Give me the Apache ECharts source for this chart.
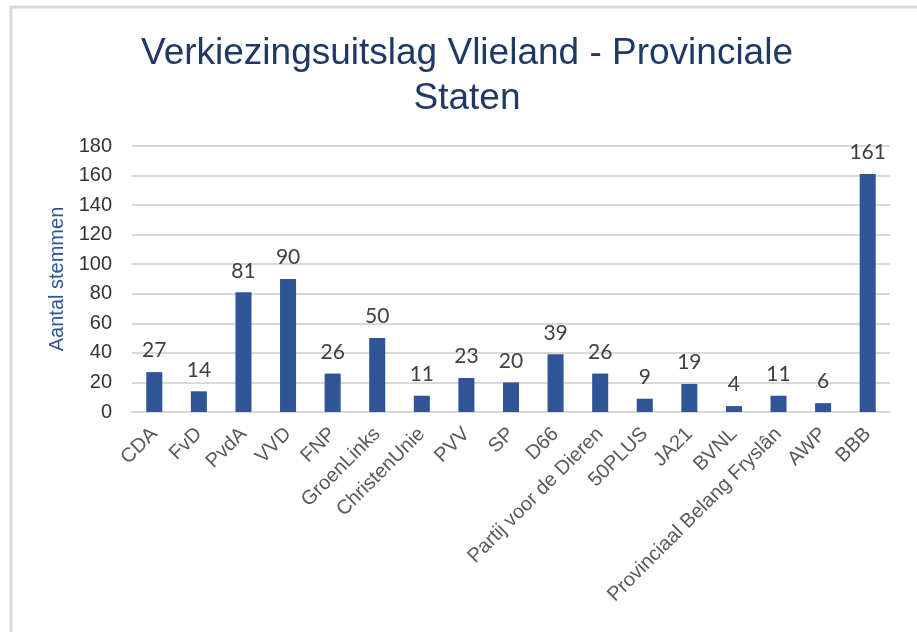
<!DOCTYPE html>
<html>
<head>
    <meta charset="utf-8">
    <title>Verkiezingsuitslag Vlieland</title>
    <script src="https://cdn.jsdelivr.net/npm/echarts@6/dist/echarts.min.js"></script>
    <style>
        html, body { margin: 0; padding: 0; background: #fff; }
        #main { width: 917px; height: 632px; }
    </style>
</head>
<body>
<div id="main"></div>
<script>
    var partijen = ['CDA', 'FvD', 'PvdA', 'VVD', 'FNP', 'GroenLinks', 'ChristenUnie', 'PVV', 'SP', 'D66',
        'Partij voor de Dieren', '50PLUS', 'JA21', 'BVNL', 'Provinciaal Belang Fryslân', 'AWP', 'BBB'];
    var stemmen = [27, 14, 81, 90, 26, 50, 11, 23, 20, 39, 26, 9, 19, 4, 11, 6, 161];
    var yTicks = [0, 180, 20];

    var chart = echarts.init(document.getElementById('main'));
    var option = {
        animation: false,
        graphic: [{
            type: 'rect',
            shape: {x: 11, y: 7, width: 930, height: 660},
            style: {fill: 'none', stroke: '#d9d9d9', lineWidth: 3}
        }],
        title: {
            text: 'Verkiezingsuitslag Vlieland - Provinciale\nStaten',
            left: 462,
            textAlign: 'center',
            top: 26,
            textStyle: {
                fontFamily: 'Liberation Sans',
                fontWeight: 'normal',
                fontSize: 37,
                lineHeight: 45,
                color: '#1f3864'
            }
        },
        grid: {left: 132, right: 27, top: 146, bottom: 220},
        xAxis: {
            type: 'category',
            data: partijen,
            axisTick: {show: false},
            axisLine: {lineStyle: {color: '#d9d9d9', width: 2}},
            axisLabel: {
                rotate: 45,
                interval: 0,
                margin: 19,
                fontFamily: 'Liberation Sans',
                fontSize: 20,
                color: '#595959'
            }
        },
        yAxis: {
            type: 'value',
            min: yTicks[0],
            max: yTicks[1],
            interval: yTicks[2],
            name: 'Aantal stemmen',
            nameLocation: 'middle',
            nameGap: 64,
            nameTextStyle: {fontFamily: 'Liberation Sans', fontSize: 20, color: '#2f5597'},
            axisLine: {show: false},
            axisTick: {show: false},
            splitLine: {lineStyle: {color: '#d9d9d9', width: 2}},
            axisLabel: {
                margin: 20,
                fontFamily: 'Liberation Sans',
                fontSize: 20,
                color: '#333333'
            }
        },
        series: [{
            type: 'bar',
            data: stemmen,
            barWidth: '36%',
            itemStyle: {color: '#2f5597'},
            label: {
                show: true,
                position: 'top',
                distance: 11,
                fontFamily: 'Lato',
                fontSize: 21,
                color: '#404040'
            }
        }]
    };
    chart.setOption(option);
</script>
</body>
</html>
